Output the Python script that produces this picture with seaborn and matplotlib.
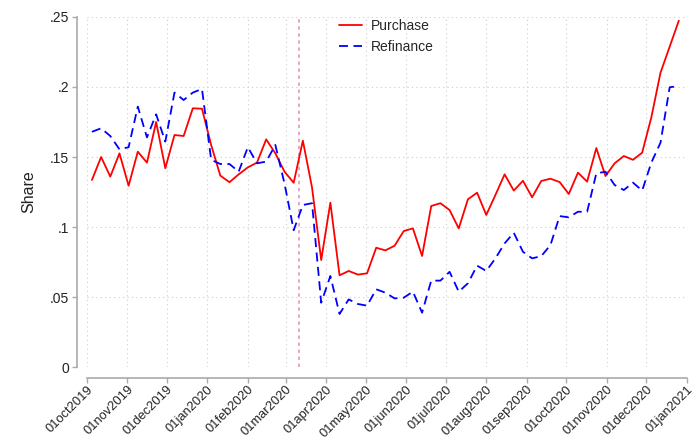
import numpy as np
import pandas as pd
import matplotlib
matplotlib.use("Agg")
import matplotlib.pyplot as plt
import seaborn as sns

start_date = "2019-10-05"
n_weeks = 65

purchase = [0.1336, 0.150, 0.136, 0.1526, 0.1295, 0.1538, 0.146, 0.175, 0.142, 0.1657,
            0.165, 0.1848, 0.1845, 0.1586, 0.1367, 0.132, 0.1376, 0.1426, 0.146, 0.1626,
            0.1526, 0.1395, 0.1316, 0.1617, 0.1282, 0.0764, 0.1174, 0.0655, 0.0686, 0.066,
            0.0669, 0.0852, 0.0833, 0.0866, 0.0971, 0.099, 0.0793, 0.115, 0.117, 0.1121,
            0.099, 0.1198, 0.1245, 0.1086, 0.1229, 0.1376, 0.126, 0.133, 0.1212, 0.1329,
            0.1345, 0.1321, 0.1236, 0.1388, 0.1324, 0.1564, 0.1364, 0.1455, 0.1507, 0.148,
            0.1531, 0.1783, 0.2102, 0.2288, 0.2474]
refinance = [0.168, 0.1705, 0.165, 0.1555, 0.157, 0.186, 0.164, 0.1805, 0.161, 0.196,
             0.1907, 0.196, 0.1986, 0.148, 0.145, 0.145, 0.1395, 0.157, 0.1455, 0.1467,
             0.1586, 0.131, 0.0977, 0.1157, 0.117, 0.0459, 0.065, 0.0379, 0.0483, 0.045,
             0.0438, 0.0555, 0.0531, 0.049, 0.0495, 0.0538, 0.0388, 0.0617, 0.0617, 0.068,
             0.0538, 0.0598, 0.0724, 0.0686, 0.0776, 0.0883, 0.0959, 0.0823, 0.0776, 0.0792,
             0.0871, 0.1078, 0.1069, 0.1109, 0.1109, 0.1383, 0.1395, 0.13, 0.1264, 0.1317,
             0.126, 0.146, 0.1602, 0.1998, 0.2007]
event_date = "2020-03-11"
y_ticks = [0, 0.05, 0.10, 0.15, 0.20, 0.25]
y_tick_labels = ["0", ".05", ".1", ".15", ".2", ".25"]
x_tick_dates = pd.date_range("2019-10-01", "2021-01-01", freq="MS")
x_tick_labels = [d.strftime("%d%b%Y").lower() for d in x_tick_dates]

dates = pd.date_range(start_date, periods=n_weeks, freq="7D")
df = pd.DataFrame({
    "date": np.concatenate([dates, dates]),
    "share": purchase + refinance,
    "type": ["Purchase"] * n_weeks + ["Refinance"] * n_weeks,
})

sns.set_style("white")
plt.rcParams["font.family"] = ["Liberation Sans", "DejaVu Sans"]

fig = plt.figure(figsize=(6.95, 4.4), dpi=100)
ax = fig.add_axes([86.7 / 695, 1 - 367 / 440, 600 / 695, 350 / 440])

sns.lineplot(data=df, x="date", y="share", hue="type", style="type",
             palette={"Purchase": "#ff0000", "Refinance": "#0000ff"},
             dashes={"Purchase": "", "Refinance": (5, 3)},
             linewidth=1.3, ax=ax)

ax.axvline(pd.Timestamp(event_date), color="#e08cb8", linestyle=(0, (2.2, 2.4)), linewidth=1.1, zorder=0)

ax.set_xlim(pd.Timestamp("2019-10-01"), pd.Timestamp("2021-01-01"))
ax.set_ylim(0, 0.25)
ax.set_yticks(y_ticks)
ax.set_yticklabels(y_tick_labels)
ax.set_xticks(x_tick_dates)
ax.set_xticklabels(x_tick_labels)

ax.grid(True, linestyle=(0, (1, 3)), color="#cccccc", linewidth=0.8)
ax.set_axisbelow(True)
for s in ["top", "right"]:
    ax.spines[s].set_visible(False)
ax.spines["left"].set_position(("outward", 7.2))
ax.spines["bottom"].set_position(("outward", 7.9))
for s in ["left", "bottom"]:
    ax.spines[s].set_color("#aaaaaa")
    ax.spines[s].set_linewidth(1.2)
ax.tick_params(axis="both", which="major", length=3.5, width=1, color="#aaaaaa",
               labelsize=10, labelcolor="#222222", direction="out", left=True, bottom=True)
ax.tick_params(axis="y", pad=2)
ax.tick_params(axis="x", pad=0.5, labelrotation=45, labelsize=9.3)
for lab in ax.get_xticklabels():
    lab.set_horizontalalignment("right")
    lab.set_rotation_mode("anchor")

ax.set_xlabel("")
ax.set_ylabel("Share", fontsize=11.5, color="#222222", labelpad=10)

leg = ax.legend(loc="upper center", bbox_to_anchor=(0.5, 1.03), frameon=False,
                fontsize=10, handlelength=1.6, handletextpad=0.7, labelspacing=0.5)
leg.set_title(None)

fig.savefig("out.png", dpi=100)
